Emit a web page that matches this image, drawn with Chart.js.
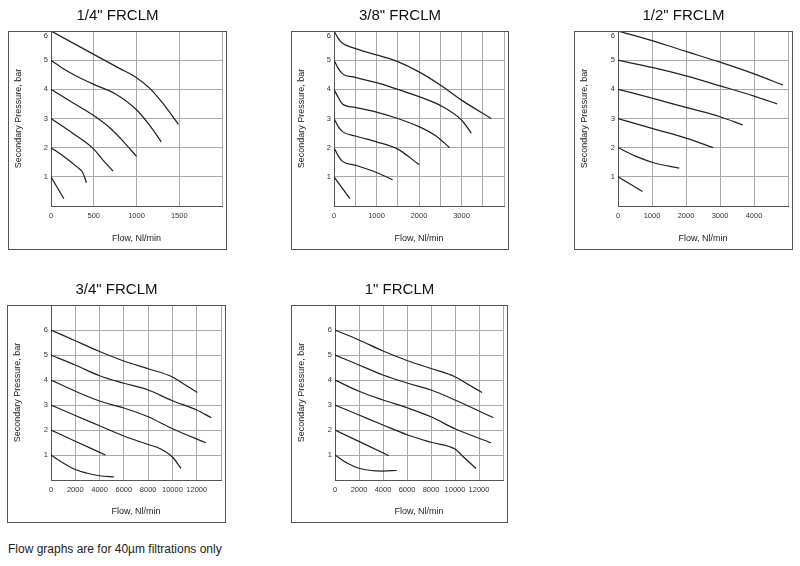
<!DOCTYPE html>
<html>
<head>
<meta charset="utf-8">
<script src="https://cdn.jsdelivr.net/npm/chart.js@4/dist/chart.umd.min.js"></script>
<style>
  body { margin: 0; background: #fff; width: 800px; height: 566px; position: relative; overflow: hidden;
         font-family: "Liberation Sans", Arial, sans-serif; }
  canvas { position: absolute; }
  #note { position: absolute; left: 8px; top: 542px; font-size: 12px; line-height: 14px; color: #222; }
</style>
</head>
<body>
<canvas id="c14" width="219" height="250" style="left:8px;top:0px"></canvas>
<canvas id="c38" width="218" height="250" style="left:291px;top:0px"></canvas>
<canvas id="c12" width="219" height="250" style="left:574px;top:0px"></canvas>
<canvas id="c34" width="219" height="249" style="left:7px;top:274px"></canvas>
<canvas id="c1" width="217" height="249" style="left:291px;top:274px"></canvas>
<div id="note">Flow graphs are for 40µm filtrations only</div>
<script>
// one inner array per curve, lowest curve first
const flow14 = [[0, 150], [0, 150, 300, 370, 415], [0, 250, 500, 600, 725],
  [0, 250, 500, 700, 850, 1000], [0, 150, 300, 500, 750, 1000, 1150, 1290], [0, 500, 800, 1000, 1150, 1300, 1490]];
const pres14 = [[1, 0.25], [2, 1.7, 1.35, 1.15, 0.8], [3, 2.5, 1.95, 1.6, 1.2],
  [4, 3.55, 3.1, 2.65, 2.2, 1.7], [5, 4.7, 4.45, 4.17, 3.85, 3.3, 2.78, 2.2], [6, 5.2, 4.72, 4.4, 4.05, 3.55, 2.8]];

const flow38 = [[0, 150, 375], [0, 100, 200, 500, 1000, 1380], [0, 100, 200, 500, 1000, 1500, 2000],
  [0, 100, 200, 500, 1000, 1500, 2000, 2400, 2720], [0, 100, 200, 500, 1000, 1500, 2000, 2500, 3000, 3230],
  [0, 100, 200, 400, 1000, 1500, 2000, 2500, 3000, 3700]];
const pres38 = [[1, 0.7, 0.25], [2, 1.72, 1.53, 1.4, 1.15, 0.9], [3, 2.72, 2.55, 2.4, 2.2, 1.95, 1.42],
  [4, 3.72, 3.5, 3.38, 3.22, 3.0, 2.72, 2.4, 2.0], [5, 4.72, 4.53, 4.41, 4.23, 4.0, 3.75, 3.45, 2.95, 2.5],
  [6, 5.75, 5.58, 5.45, 5.18, 4.95, 4.6, 4.15, 3.63, 3.0]];

const flow12 = [[0, 720], [0, 500, 1000, 1800], [0, 1000, 2000, 2800], [0, 1000, 2000, 3000, 3670],
  [0, 1000, 2000, 3000, 4000, 4680], [0, 1000, 2000, 3000, 4000, 4850]];
const pres12 = [[1, 0.5], [2, 1.72, 1.5, 1.3], [3, 2.66, 2.33, 2.0], [4, 3.7, 3.38, 3.06, 2.78],
  [5, 4.75, 4.46, 4.12, 3.77, 3.5], [6, 5.67, 5.3, 4.93, 4.53, 4.15]];

const flow34 = [[0, 1000, 2000, 3000, 4000, 5200], [0, 2000, 4480], [0, 2000, 4000, 6000, 8000, 9000, 10000, 10700],
  [0, 2000, 4000, 6000, 8000, 10000, 12750], [0, 2000, 4000, 6000, 8000, 10000, 12000, 13200],
  [0, 2000, 4000, 6000, 8000, 10000, 11000, 12050]];
const pres34 = [[1, 0.68, 0.42, 0.27, 0.17, 0.12], [2, 1.55, 1.0], [3, 2.58, 2.17, 1.76, 1.42, 1.25, 0.92, 0.47],
  [4, 3.55, 3.16, 2.88, 2.53, 2.05, 1.49], [5, 4.6, 4.17, 3.87, 3.6, 3.17, 2.8, 2.49],
  [6, 5.57, 5.14, 4.76, 4.45, 4.12, 3.82, 3.5]];

const flow1 = [[0, 1000, 2000, 3000, 4000, 5150], [0, 4500], [0, 2000, 4000, 6000, 8000, 10000, 10600, 11750],
  [0, 2000, 4000, 6000, 8000, 10000, 13000], [0, 2000, 4000, 6000, 8000, 10000, 13200],
  [0, 2000, 4000, 6000, 8000, 10000, 11000, 12250]];
const pres1 = [[1, 0.68, 0.47, 0.38, 0.36, 0.38], [2, 0.97], [3, 2.6, 2.2, 1.81, 1.51, 1.24, 0.97, 0.46],
  [4, 3.55, 3.2, 2.89, 2.53, 2.05, 1.49], [5, 4.6, 4.2, 3.88, 3.6, 3.2, 2.49],
  [6, 5.6, 5.16, 4.78, 4.46, 4.13, 3.85, 3.5]];

const FONT = '"Liberation Sans", Arial, sans-serif';
const TOP_LABEL = 5.82; // the "6" label sits a bit under the top edge when 6 is the max

// box round the whole chart, its top is the top of the plot
const framePlugin = {
  id: 'frame',
  afterDraw(chart) {
    const { ctx, chartArea, width, height } = chart;
    ctx.save();
    ctx.strokeStyle = '#555';
    ctx.lineWidth = 1;
    ctx.strokeRect(0.5, chartArea.top + 0.5, width - 1, height - chartArea.top - 1);
    ctx.restore();
  }
};

function makeChart(id, title, flows, pres, xMax, xStep, xLabelStep, yMax, yAxisW, xAxisH) {
  const datasets = flows.map((f, i) => ({
    data: f.map((x, j) => ({ x: x, y: pres[i][j] })),
    borderColor: '#222',
    borderWidth: 1.25,
    pointRadius: 0,
    fill: false,
    cubicInterpolationMode: 'monotone'
  }));

  new Chart(document.getElementById(id), {
    type: 'line',
    data: { datasets },
    options: {
      responsive: false,
      animation: false,
      layout: { padding: 0 },
      plugins: {
        legend: { display: false },
        tooltip: { enabled: false },
        title: {
          display: true, text: title, color: '#111',
          font: { size: 15, family: FONT, weight: 'normal' },
          padding: { top: 7, bottom: 6 }
        }
      },
      scales: {
        x: {
          type: 'linear', min: 0, max: xMax,
          grid: { color: '#aaa', drawTicks: false },
          border: { color: '#555' },
          ticks: {
            stepSize: xStep, autoSkip: false, maxRotation: 0, padding: 5, color: '#333',
            font: { size: 7.5, family: FONT },
            callback: v => (v >= xMax || v % xLabelStep) ? '' : v
          },
          title: { display: true, text: 'Flow, Nl/min', color: '#222', font: { size: 9, family: FONT }, padding: { top: 0, bottom: 6 } },
          afterFit: s => { s.height = xAxisH; }
        },
        y: {
          type: 'linear', min: 0, max: yMax,
          grid: { color: c => (c.tick && c.tick.value === TOP_LABEL) ? 'rgba(0,0,0,0)' : '#aaa', drawTicks: false },
          border: { color: '#555' },
          ticks: {
            stepSize: 1, padding: 3, color: '#333',
            font: { size: 7.5, family: FONT },
            callback: v => (v === 0 || v > 6.5) ? '' : Math.round(v)
          },
          afterBuildTicks: s => {
            if (yMax === 6) s.ticks = s.ticks.map(t => t.value === 6 ? { value: TOP_LABEL } : t);
          },
          title: { display: true, text: 'Secondary Pressure, bar', color: '#222', font: { size: 9, family: FONT }, padding: { top: 5, bottom: 0 } },
          afterFit: s => { s.width = yAxisW; }
        }
      }
    },
    plugins: [framePlugin]
  });
}

makeChart('c14', '1/4" FRCLM', flow14, pres14, 2000, 500, 500, 6, 43, 44);
makeChart('c38', '3/8" FRCLM', flow38, pres38, 4000, 500, 1000, 6, 43, 44);
makeChart('c12', '1/2" FRCLM', flow12, pres12, 5000, 1000, 1000, 6, 44, 44);
makeChart('c34', '3/4" FRCLM', flow34, pres34, 14000, 2000, 2000, 7, 44, 43);
makeChart('c1', '1" FRCLM', flow1, pres1, 14000, 2000, 2000, 7, 44, 43);
</script>
</body>
</html>
